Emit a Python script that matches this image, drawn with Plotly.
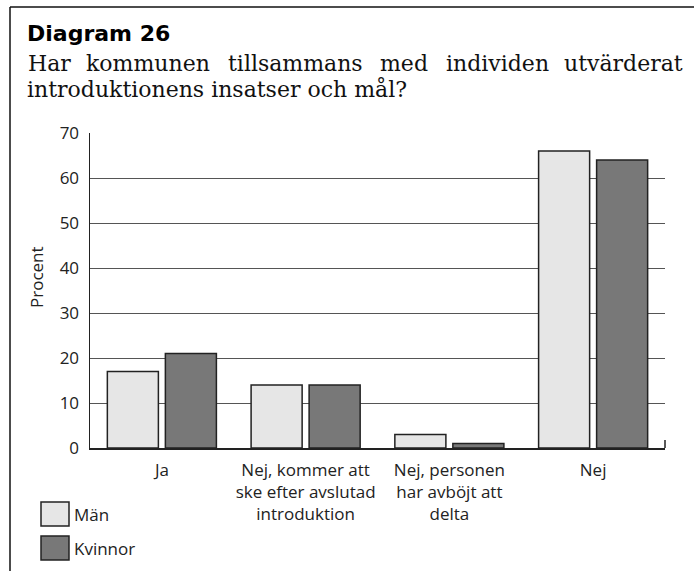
import plotly.graph_objects as go

# ---------------- data ----------------
categories = [
    "Ja",
    "Nej, kommer att<br>ske efter avslutad<br>introduktion",
    "Nej, personen<br>har avböjt att<br>delta",
    "Nej",
]
man_values = [17, 14, 3, 66]
kvinnor_values = [21, 14, 1, 64]
series_names = ["Män", "Kvinnor"]
series_colors = ["#e6e6e6", "#787878"]
y_ticks = [0, 10, 20, 30, 40, 50, 60, 70]
y_title = "Procent"
title_text = "Diagram 26"
subtitle_line1_words = ["Har", "kommunen", "tillsammans", "med", "individen", "utvärderat"]
subtitle_line2 = "introduktionens insatser och mål?"

# ---------------- layout helpers ----------------
W, H = 694, 571
PL, PR, PT, PB = 90, 665, 133, 448  # plot area in pixels


def px(x):
    return (x - PL) / (PR - PL)


def py(y):
    return (PB - y) / (PB - PT)


SERIF = "DejaVu Serif"
SANS = "Open Sans"
TEXT = "#222222"

fig = go.Figure()
for name, vals, col in zip(series_names, [man_values, kvinnor_values], series_colors):
    fig.add_trace(go.Bar(
        x=categories, y=vals, name=name,
        marker=dict(color=col, line=dict(color="#222222", width=1.5)),
        showlegend=False,
    ))

fig.update_layout(
    width=W, height=H,
    margin=dict(l=PL, r=W - PR, t=PT, b=H - PB),
    paper_bgcolor="white", plot_bgcolor="white",
    barmode="group", bargap=0.193, bargroupgap=0.12,
    font=dict(family=SANS, color=TEXT),
)
fig.update_yaxes(
    range=[0, 70], tickvals=y_ticks, showgrid=True, gridcolor="#555555", gridwidth=1,
    showline=True, linecolor="#222222", linewidth=1.5, ticks="",
    tickfont=dict(family=SANS, size=17, color=TEXT), ticklabelstandoff=6,
    zeroline=False, fixedrange=True,
)
fig.update_xaxes(
    showline=True, linecolor="#222222", linewidth=1.5, ticks="",
    tickfont=dict(family=SANS, size=17, color=TEXT), tickangle=0,
    ticklabelstandoff=6, fixedrange=True,
)

shapes = []
# outer frame (left + top)
shapes.append(dict(type="line", xref="paper", yref="paper", x0=px(10), x1=px(10), y0=py(7), y1=py(H + 2),
                   line=dict(color="#111111", width=1.5)))
shapes.append(dict(type="line", xref="paper", yref="paper", x0=px(10), x1=px(W + 2), y0=py(7), y1=py(7),
                   line=dict(color="#111111", width=1.5)))
# end tick at right of x axis
shapes.append(dict(type="line", xref="paper", yref="paper", x0=1, x1=1, y0=0, y1=py(PB - 8),
                   line=dict(color="#222222", width=1.5)))

annotations = []
# y axis title
annotations.append(dict(text=y_title, xref="paper", yref="paper", x=px(36), y=py(277),
                        xanchor="center", yanchor="middle", textangle=-90, showarrow=False,
                        font=dict(family=SANS, size=17, color=TEXT)))
# title
annotations.append(dict(text="<b>" + title_text + "</b>", xref="paper", yref="paper", x=px(25), y=py(33),
                        xanchor="left", yanchor="middle", showarrow=False,
                        font=dict(family="DejaVu Sans", size=22, color="#000000")))

# justified first subtitle line: approximate DejaVu Serif advance widths (per 1000 em)
adv = {"H": 872, "a": 596, "r": 478, "k": 608, "o": 602, "m": 948, "u": 644, "n": 644, "e": 592,
       "t": 402, "i": 320, "l": 320, "s": 513, "d": 640, "v": 565, "ä": 596}
sub_size = 22
widths = [sum(adv.get(c, 600) for c in w) * sub_size / 1000 for w in subtitle_line1_words]
x_left, x_right = 26, 685
gap = (x_right - x_left - sum(widths)) / (len(widths) - 1)
xpos = x_left
for i, (w, wd) in enumerate(zip(subtitle_line1_words, widths)):
    if i == 0:
        ax, anc = xpos, "left"
    elif i == len(widths) - 1:
        ax, anc = x_right, "right"
    else:
        ax, anc = xpos + wd / 2, "center"
    annotations.append(dict(text=w, xref="paper", yref="paper", x=px(ax), y=py(64),
                            xanchor=anc, yanchor="middle", showarrow=False,
                            font=dict(family=SERIF, size=sub_size, color="#111111")))
    xpos += wd + gap
annotations.append(dict(text=subtitle_line2, xref="paper", yref="paper", x=px(25), y=py(89),
                        xanchor="left", yanchor="middle", showarrow=False,
                        font=dict(family=SERIF, size=sub_size, color="#111111")))

# manual legend
leg_y = [514, 548]
for name, col, cy in zip(series_names, series_colors, leg_y):
    shapes.append(dict(type="rect", xref="paper", yref="paper",
                       x0=px(41), x1=px(69), y0=py(cy - 12), y1=py(cy + 12),
                       fillcolor=col, line=dict(color="#222222", width=1.5)))
    annotations.append(dict(text=name, xref="paper", yref="paper", x=px(72), y=py(cy),
                            xanchor="left", yanchor="middle", showarrow=False,
                            font=dict(family=SANS, size=17, color=TEXT)))

fig.update_layout(shapes=shapes, annotations=annotations)
fig.write_html(
    "out.html",
    config={"displayModeBar": False, "staticPlot": True},
    post_script="document.body.style.margin='0';document.body.style.overflow='hidden';",
)
